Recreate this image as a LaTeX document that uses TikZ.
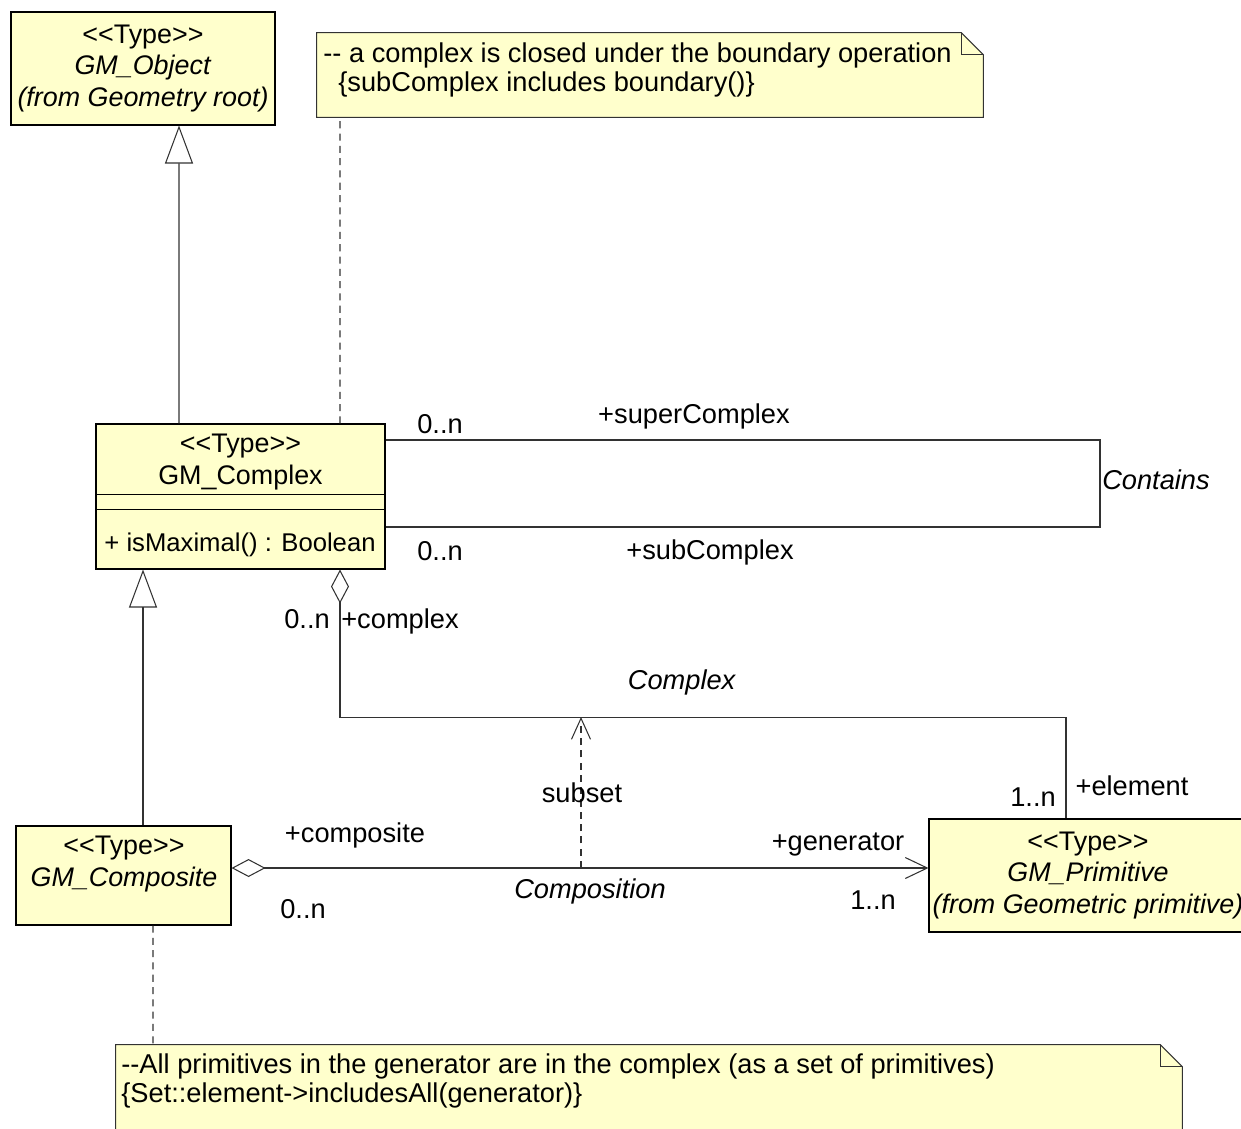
\documentclass[tikz,border=0pt]{standalone}
\usepackage{fontspec}
\setmainfont[Ligatures=TeXOff]{Liberation Sans}
\usetikzlibrary{arrows.meta,calc}
\definecolor{umlfill}{RGB}{255,255,204}
\definecolor{umlline}{RGB}{50,50,50}
\tikzset{
	umlbox/.style={draw=black, fill=umlfill, line width=0.6pt, inner sep=0pt},
	notebox/.style={inner sep=0pt},
	txt/.style={inner sep=0pt, align=center, font=\fontsize{15.3}{18}\selectfont},
	notetxt/.style={inner sep=0pt, align=left, anchor=west, font=\fontsize{15.5}{17}\selectfont},
	lbl/.style={inner sep=0pt, font=\fontsize{15.5}{17}\selectfont},
	assoc/.style={draw=umlline, line width=0.6pt},
	gen/.style={assoc, -{Triangle[open, length=0.76cm, width=0.56cm]}},
	aggr/.style={assoc, {Diamond[open, length=0.68cm, width=0.36cm]}-},
	aggrnav/.style={assoc, {Diamond[open, length=0.68cm, width=0.36cm]}-{Straight Barb[length=0.44cm, width=0.42cm]}},
	depend/.style={assoc, dash pattern=on 4pt off 3pt, -{Straight Barb[length=0.42cm, width=0.38cm]}},
	notelink/.style={assoc, dash pattern=on 4pt off 3pt},
}
\newcommand{\notefold}[1]{%
	\filldraw[draw=umlline, fill=umlfill, line width=0.6pt] (#1.south west) -- (#1.north west) -- ([xshift=-0.44cm]#1.north east) -- ([yshift=-0.44cm]#1.north east) -- (#1.south east) -- cycle;
	\draw[umlline, line width=0.6pt] ([xshift=-0.44cm]#1.north east) -- ([xshift=-0.44cm,yshift=-0.44cm]#1.north east) -- ([yshift=-0.44cm]#1.north east);}

\begin{document}
\begin{tikzpicture}
	%%%%% START %%%%%
	\useasboundingbox (0,0) rectangle (24.82,-22.56);
	
	% classes
	\node[umlbox, txt, minimum width=5.28cm, minimum height=2.26cm] (object) at (2.86,-1.37)
		{<<Type>>\\ \textit{GM\_Object}\\ \textit{(from Geometry root)}};
	
	\node[umlbox, minimum width=5.78cm, minimum height=2.90cm] (complex) at (4.81,-9.93) {};
	\draw[black, line width=0.6pt] ([yshift=-1.42cm]complex.north west) -- ([yshift=-1.42cm]complex.north east);
	\draw[black, line width=0.6pt] ([yshift=-1.72cm]complex.north west) -- ([yshift=-1.72cm]complex.north east);
	\node[txt] (complexT) at (4.81,-9.24) {<<Type>>\\ GM\_Complex};
	\node[txt, font=\fontsize{14.6}{18}\selectfont] (complexM) at (4.80,-10.90) {+ isMaximal() : Boolean};
	
	\node[umlbox, minimum width=4.30cm, minimum height=1.98cm] (composite) at (2.47,-17.51) {};
	\node[txt] (compositeT) at (2.48,-17.28) {<<Type>>\\ \textit{GM\_Composite}};
	
	\node[umlbox, txt, minimum width=6.36cm, minimum height=2.26cm] (primitive) at (21.76,-17.51)
		{<<Type>>\\ \textit{GM\_Primitive}\\ \textit{(from Geometric primitive)}};
	
	% notes
	\node[notebox, minimum width=13.32cm, minimum height=1.68cm] (note1) at (13.00,-1.50) {};
	\notefold{note1}
	\node[notetxt] (note1T) at (6.46,-1.40) {-- a complex is closed under the boundary operation\\ \hspace*{0.3cm}\{subComplex includes boundary()\}};
	
	\node[notebox, minimum width=21.32cm, minimum height=2.00cm] (note2) at (12.98,-21.90) {};
	\notefold{note2}
	\node[notetxt] (note2T) at (2.42,-21.62) {--All primitives in the generator are in the complex (as a set of primitives)\\ \{Set::element->includesAll(generator)\}};
	
	% generalizations
	\draw[gen] ([xshift=-1.23cm]complex.north) -- ([xshift=0.72cm]object.south);
	\draw[gen] ([xshift=0.39cm]composite.north) -- ([xshift=-1.95cm]complex.south);
	
	% note links
	\draw[notelink] ([xshift=1.99cm]complex.north) -- ([xshift=-6.20cm]note1.south);
	\draw[notelink] ([xshift=0.59cm]composite.south) -- ([xshift=-9.92cm]note2.north);
	
	% Contains
	\coordinate (loopR) at (22.00,-9.67);
	\draw[assoc] ([yshift=1.13cm]complex.east) -| (loopR) |- ([yshift=-0.61cm]complex.east);
	\node[lbl] (supMult) at (8.80,-8.48) {0..n};
	\node[lbl] (supRole) at (13.88,-8.32) {+superComplex};
	\node[lbl] (containsL) at (23.12,-9.60) {\textit{Contains}};
	\node[lbl] (subMult) at (8.80,-11.02) {0..n};
	\node[lbl] (subRole) at (14.20,-11.04) {+subComplex};
	
	% Complex
	\draw[aggr] ([xshift=1.99cm]complex.south) -- ++(0,-2.96) -| ([xshift=-0.44cm]primitive.north);
	\node[lbl] (cplxMult) at (6.14,-12.38) {0..n};
	\node[lbl] (cplxRole) at (8.00,-12.42) {+complex};
	\node[lbl] (complexL) at (13.64,-13.64) {\textit{Complex}};
	\node[lbl] (elemMult) at (20.66,-15.94) {1..n};
	\node[lbl] (elemRole) at (22.64,-15.72) {+element};
	
	% Composition
	\draw[aggrnav] ([yshift=0.15cm]composite.east) -- ([yshift=0.15cm]primitive.west);
	\node[lbl] (compRole) at (7.10,-16.70) {+composite};
	\node[lbl] (compMult) at (6.06,-18.18) {0..n};
	\node[lbl] (compositionL) at (11.80,-17.82) {\textit{Composition}};
	\node[lbl] (genRole) at (16.76,-16.90) {+generator};
	\node[lbl] (genMult) at (17.46,-18.00) {1..n};
	
	% subset
	\coordinate (subsetFoot) at (11.62,-17.36);
	\coordinate (subsetHead) at (11.62,-14.34);
	\draw[depend] (subsetFoot) -- (subsetHead);
	\node[lbl] (subsetL) at (11.64,-15.86) {subset};
	
	%%%%% END %%%%%
\end{tikzpicture}
\end{document}
